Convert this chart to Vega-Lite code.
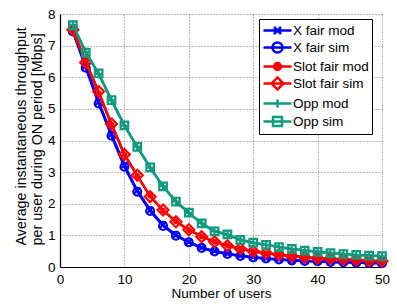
{
  "$schema": "https://vega.github.io/schema/vega-lite/v6.json",
  "width": 322,
  "height": 253,
  "autosize": {"type": "none"},
  "padding": {"left": 60, "top": 14, "right": 15, "bottom": 38},
  "background": "white",
  "config": {
    "view": {"stroke": null},
    "font": "Liberation Sans",
    "axis": {
      "labelFont": "Liberation Sans",
      "labelFontSize": 13.5,
      "labelColor": "black",
      "titleFont": "Liberation Sans",
      "titleFontSize": 13.5,
      "titleFontWeight": "normal",
      "titleColor": "black",
      "domainColor": "black",
      "domainWidth": 1.2,
      "ticks": false,
      "grid": true,
      "gridColor": "#777777",
      "gridDash": [1, 2],
      "gridWidth": 1,
      "gridOpacity": 1
    }
  },
  "datasets": {
    "curves": [
      {"s": "X fair mod", "x": 2, "y": 7.47}, {"s": "X fair mod", "x": 4, "y": 6.35}, {"s": "X fair mod", "x": 6, "y": 5.22}, {"s": "X fair mod", "x": 8, "y": 4.2}, {"s": "X fair mod", "x": 10, "y": 3.22},
      {"s": "X fair mod", "x": 12, "y": 2.42}, {"s": "X fair mod", "x": 14, "y": 1.8}, {"s": "X fair mod", "x": 16, "y": 1.33}, {"s": "X fair mod", "x": 18, "y": 1.01}, {"s": "X fair mod", "x": 20, "y": 0.79},
      {"s": "X fair mod", "x": 22, "y": 0.61}, {"s": "X fair mod", "x": 24, "y": 0.5}, {"s": "X fair mod", "x": 26, "y": 0.42}, {"s": "X fair mod", "x": 28, "y": 0.36}, {"s": "X fair mod", "x": 30, "y": 0.31},
      {"s": "X fair mod", "x": 32, "y": 0.27}, {"s": "X fair mod", "x": 34, "y": 0.24}, {"s": "X fair mod", "x": 36, "y": 0.21}, {"s": "X fair mod", "x": 38, "y": 0.19}, {"s": "X fair mod", "x": 40, "y": 0.18},
      {"s": "X fair mod", "x": 42, "y": 0.16}, {"s": "X fair mod", "x": 44, "y": 0.15}, {"s": "X fair mod", "x": 46, "y": 0.14}, {"s": "X fair mod", "x": 48, "y": 0.13}, {"s": "X fair mod", "x": 50, "y": 0.12},

      {"s": "X fair sim", "x": 2, "y": 7.45}, {"s": "X fair sim", "x": 4, "y": 6.3}, {"s": "X fair sim", "x": 6, "y": 5.17}, {"s": "X fair sim", "x": 8, "y": 4.15}, {"s": "X fair sim", "x": 10, "y": 3.17},
      {"s": "X fair sim", "x": 12, "y": 2.38}, {"s": "X fair sim", "x": 14, "y": 1.77}, {"s": "X fair sim", "x": 16, "y": 1.3}, {"s": "X fair sim", "x": 18, "y": 0.99}, {"s": "X fair sim", "x": 20, "y": 0.78},
      {"s": "X fair sim", "x": 22, "y": 0.6}, {"s": "X fair sim", "x": 24, "y": 0.49}, {"s": "X fair sim", "x": 26, "y": 0.41}, {"s": "X fair sim", "x": 28, "y": 0.35}, {"s": "X fair sim", "x": 30, "y": 0.3},
      {"s": "X fair sim", "x": 32, "y": 0.27}, {"s": "X fair sim", "x": 34, "y": 0.24}, {"s": "X fair sim", "x": 36, "y": 0.21}, {"s": "X fair sim", "x": 38, "y": 0.19}, {"s": "X fair sim", "x": 40, "y": 0.18},
      {"s": "X fair sim", "x": 42, "y": 0.16}, {"s": "X fair sim", "x": 44, "y": 0.15}, {"s": "X fair sim", "x": 46, "y": 0.14}, {"s": "X fair sim", "x": 48, "y": 0.13}, {"s": "X fair sim", "x": 50, "y": 0.12},

      {"s": "Slot fair mod", "x": 2, "y": 7.52}, {"s": "Slot fair mod", "x": 4, "y": 6.5}, {"s": "Slot fair mod", "x": 6, "y": 5.5}, {"s": "Slot fair mod", "x": 8, "y": 4.5}, {"s": "Slot fair mod", "x": 10, "y": 3.55},
      {"s": "Slot fair mod", "x": 12, "y": 2.88}, {"s": "Slot fair mod", "x": 14, "y": 2.25}, {"s": "Slot fair mod", "x": 16, "y": 1.78}, {"s": "Slot fair mod", "x": 18, "y": 1.45}, {"s": "Slot fair mod", "x": 20, "y": 1.17},
      {"s": "Slot fair mod", "x": 22, "y": 0.97}, {"s": "Slot fair mod", "x": 24, "y": 0.8}, {"s": "Slot fair mod", "x": 26, "y": 0.68}, {"s": "Slot fair mod", "x": 28, "y": 0.58}, {"s": "Slot fair mod", "x": 30, "y": 0.5},
      {"s": "Slot fair mod", "x": 32, "y": 0.44}, {"s": "Slot fair mod", "x": 34, "y": 0.39}, {"s": "Slot fair mod", "x": 36, "y": 0.35}, {"s": "Slot fair mod", "x": 38, "y": 0.31}, {"s": "Slot fair mod", "x": 40, "y": 0.28},
      {"s": "Slot fair mod", "x": 42, "y": 0.26}, {"s": "Slot fair mod", "x": 44, "y": 0.24}, {"s": "Slot fair mod", "x": 46, "y": 0.22}, {"s": "Slot fair mod", "x": 48, "y": 0.2}, {"s": "Slot fair mod", "x": 50, "y": 0.19},

      {"s": "Slot fair sim", "x": 2, "y": 7.5}, {"s": "Slot fair sim", "x": 4, "y": 6.47}, {"s": "Slot fair sim", "x": 6, "y": 5.55}, {"s": "Slot fair sim", "x": 8, "y": 4.52}, {"s": "Slot fair sim", "x": 10, "y": 3.56},
      {"s": "Slot fair sim", "x": 12, "y": 2.9}, {"s": "Slot fair sim", "x": 14, "y": 2.22}, {"s": "Slot fair sim", "x": 16, "y": 1.8}, {"s": "Slot fair sim", "x": 18, "y": 1.43}, {"s": "Slot fair sim", "x": 20, "y": 1.18},
      {"s": "Slot fair sim", "x": 22, "y": 0.96}, {"s": "Slot fair sim", "x": 24, "y": 0.8}, {"s": "Slot fair sim", "x": 26, "y": 0.67}, {"s": "Slot fair sim", "x": 28, "y": 0.58}, {"s": "Slot fair sim", "x": 30, "y": 0.5},
      {"s": "Slot fair sim", "x": 32, "y": 0.44}, {"s": "Slot fair sim", "x": 34, "y": 0.39}, {"s": "Slot fair sim", "x": 36, "y": 0.35}, {"s": "Slot fair sim", "x": 38, "y": 0.31}, {"s": "Slot fair sim", "x": 40, "y": 0.28},
      {"s": "Slot fair sim", "x": 42, "y": 0.26}, {"s": "Slot fair sim", "x": 44, "y": 0.24}, {"s": "Slot fair sim", "x": 46, "y": 0.22}, {"s": "Slot fair sim", "x": 48, "y": 0.2}, {"s": "Slot fair sim", "x": 50, "y": 0.19},

      {"s": "Opp mod", "x": 2, "y": 7.66}, {"s": "Opp mod", "x": 4, "y": 6.8}, {"s": "Opp mod", "x": 6, "y": 6.1}, {"s": "Opp mod", "x": 8, "y": 5.27}, {"s": "Opp mod", "x": 10, "y": 4.47},
      {"s": "Opp mod", "x": 12, "y": 3.8}, {"s": "Opp mod", "x": 14, "y": 3.14}, {"s": "Opp mod", "x": 16, "y": 2.55}, {"s": "Opp mod", "x": 18, "y": 2.07}, {"s": "Opp mod", "x": 20, "y": 1.71},
      {"s": "Opp mod", "x": 22, "y": 1.38}, {"s": "Opp mod", "x": 24, "y": 1.13}, {"s": "Opp mod", "x": 26, "y": 1.02}, {"s": "Opp mod", "x": 28, "y": 0.86}, {"s": "Opp mod", "x": 30, "y": 0.77},
      {"s": "Opp mod", "x": 32, "y": 0.7}, {"s": "Opp mod", "x": 34, "y": 0.63}, {"s": "Opp mod", "x": 36, "y": 0.57}, {"s": "Opp mod", "x": 38, "y": 0.52}, {"s": "Opp mod", "x": 40, "y": 0.48},
      {"s": "Opp mod", "x": 42, "y": 0.44}, {"s": "Opp mod", "x": 44, "y": 0.41}, {"s": "Opp mod", "x": 46, "y": 0.38}, {"s": "Opp mod", "x": 48, "y": 0.36}, {"s": "Opp mod", "x": 50, "y": 0.34},

      {"s": "Opp sim", "x": 2, "y": 7.65}, {"s": "Opp sim", "x": 4, "y": 6.78}, {"s": "Opp sim", "x": 6, "y": 6.12}, {"s": "Opp sim", "x": 8, "y": 5.28}, {"s": "Opp sim", "x": 10, "y": 4.48},
      {"s": "Opp sim", "x": 12, "y": 3.8}, {"s": "Opp sim", "x": 14, "y": 3.15}, {"s": "Opp sim", "x": 16, "y": 2.55}, {"s": "Opp sim", "x": 18, "y": 2.07}, {"s": "Opp sim", "x": 20, "y": 1.72},
      {"s": "Opp sim", "x": 22, "y": 1.38}, {"s": "Opp sim", "x": 24, "y": 1.13}, {"s": "Opp sim", "x": 26, "y": 1.03}, {"s": "Opp sim", "x": 28, "y": 0.86}, {"s": "Opp sim", "x": 30, "y": 0.77},
      {"s": "Opp sim", "x": 32, "y": 0.7}, {"s": "Opp sim", "x": 34, "y": 0.63}, {"s": "Opp sim", "x": 36, "y": 0.57}, {"s": "Opp sim", "x": 38, "y": 0.52}, {"s": "Opp sim", "x": 40, "y": 0.48},
      {"s": "Opp sim", "x": 42, "y": 0.44}, {"s": "Opp sim", "x": 44, "y": 0.41}, {"s": "Opp sim", "x": 46, "y": 0.38}, {"s": "Opp sim", "x": 48, "y": 0.36}, {"s": "Opp sim", "x": 50, "y": 0.34}
    ]
  },
  "data": {"name": "curves"},
  "encoding": {
    "x": {
      "field": "x", "type": "quantitative",
      "scale": {"domain": [0, 50], "nice": false},
      "axis": {"values": [0, 10, 20, 30, 40, 50], "title": "Number of users", "labelPadding": 5, "titlePadding": 1, "labelFlush": false}
    },
    "y": {
      "field": "y", "type": "quantitative",
      "scale": {"domain": [0, 8], "nice": false},
      "axis": {"values": [0, 1, 2, 3, 4, 5, 6, 7, 8], "title": ["Average instantaneous throughput", "per user during ON period [Mbps]"], "labelPadding": 5, "titlePadding": 3, "titleFontSize": 14.3, "titleLineHeight": 15.6, "titleAlign": "left", "titleY": 231, "labelFlush": false}
    }
  },
  "layer": [
    {"transform": [{"filter": "datum.s === 'X fair mod'"}], "mark": {"type": "line", "strokeWidth": 2.5, "color": "#0000ff"}},
    {"transform": [{"filter": "datum.s === 'X fair mod'"}], "mark": {"type": "point", "filled": false, "strokeWidth": 2, "size": 110, "opacity": 1, "color": "#0000ff", "shape": "M-0.6,-0.6L0.6,0.6M-0.6,0.6L0.6,-0.6"}},
    {"transform": [{"filter": "datum.s === 'X fair sim'"}], "mark": {"type": "line", "strokeWidth": 2.5, "color": "#0000ff"}},
    {"transform": [{"filter": "datum.s === 'X fair sim'"}], "mark": {"type": "point", "filled": false, "strokeWidth": 2.2, "size": 110, "opacity": 1, "color": "#0000ff", "shape": "M0.75,0A0.75,0.75 0 1,1 -0.75,0A0.75,0.75 0 1,1 0.75,0Z"}},
    {"transform": [{"filter": "datum.s === 'Slot fair mod'"}], "mark": {"type": "line", "strokeWidth": 2.5, "color": "#ff0000"}},
    {"transform": [{"filter": "datum.s === 'Slot fair mod'"}], "mark": {"type": "point", "filled": true, "size": 110, "opacity": 1, "color": "#ff0000", "shape": "M0.55,0A0.55,0.55 0 1,1 -0.55,0A0.55,0.55 0 1,1 0.55,0Z"}},
    {"transform": [{"filter": "datum.s === 'Slot fair sim'"}], "mark": {"type": "line", "strokeWidth": 2.5, "color": "#ff0000"}},
    {"transform": [{"filter": "datum.s === 'Slot fair sim'"}], "mark": {"type": "point", "filled": false, "strokeWidth": 2.2, "size": 120, "opacity": 1, "color": "#ff0000", "shape": "M0,-1L1,0L0,1L-1,0Z"}},
    {"transform": [{"filter": "datum.s === 'Opp mod'"}], "mark": {"type": "line", "strokeWidth": 2.5, "color": "#0f9a7e"}},
    {"transform": [{"filter": "datum.s === 'Opp mod'"}], "mark": {"type": "point", "filled": false, "strokeWidth": 2, "size": 110, "opacity": 1, "color": "#0f9a7e", "shape": "M-0.8,0H0.8M0,-0.8V0.8"}},
    {"transform": [{"filter": "datum.s === 'Opp sim'"}], "mark": {"type": "line", "strokeWidth": 2.5, "color": "#0f9a7e"}},
    {"transform": [{"filter": "datum.s === 'Opp sim'"}], "mark": {"type": "point", "filled": false, "strokeWidth": 2.2, "size": 110, "opacity": 1, "color": "#0f9a7e", "shape": "M-0.72,-0.72H0.72V0.72H-0.72Z"}},
    {
      "transform": [{"filter": "false"}],
      "mark": {"type": "point", "strokeWidth": 2.5, "opacity": 1},
      "encoding": {
        "stroke": {
          "field": "s", "type": "nominal",
          "scale": {"domain": ["X fair mod", "X fair sim", "Slot fair mod", "Slot fair sim", "Opp mod", "Opp sim"], "range": ["#0000ff", "#0000ff", "#ff0000", "#ff0000", "#0f9a7e", "#0f9a7e"]},
          "legend": null
        },
        "fill": {
          "field": "s", "type": "nominal",
          "scale": {"domain": ["X fair mod", "X fair sim", "Slot fair mod", "Slot fair sim", "Opp mod", "Opp sim"], "range": ["white", "white", "#ff0000", "white", "white", "white"]},
          "legend": null
        },
        "shape": {
          "field": "s", "type": "nominal",
          "scale": {"domain": ["X fair mod", "X fair sim", "Slot fair mod", "Slot fair sim", "Opp mod", "Opp sim"], "range": [
            "M-1,0H3M0.5,-0.5L1.5,0.5M0.5,0.5L1.5,-0.5",
            "M-1,0H3M1.71,0A0.71,0.71 0 1,1 0.29,0A0.71,0.71 0 1,1 1.71,0Z",
            "M-1,0H3M1.5,0A0.5,0.5 0 1,1 0.5,0A0.5,0.5 0 1,1 1.5,0Z",
            "M-1,0H3M1,-0.86L1.86,0L1,0.86L0.14,0Z",
            "M-1,0H3M1,-0.57V0.57",
            "M-1,0H3M0.36,-0.64H1.64V0.64H0.36Z"
          ]},
          "legend": {
            "title": null,
            "orient": "none",
            "legendX": 199,
            "legendY": 5,
            "padding": 3,
            "strokeColor": "black",
            "fillColor": "white",
            "cornerRadius": 0,
            "labelFont": "Liberation Sans",
            "labelFontSize": 13.5,
            "labelColor": "black",
            "labelOffset": 14,
            "symbolSize": 196,
            "symbolStrokeWidth": 2.5,
            "symbolOpacity": 1,
            "rowPadding": -6
          }
        }
      }
    }
  ]
}
